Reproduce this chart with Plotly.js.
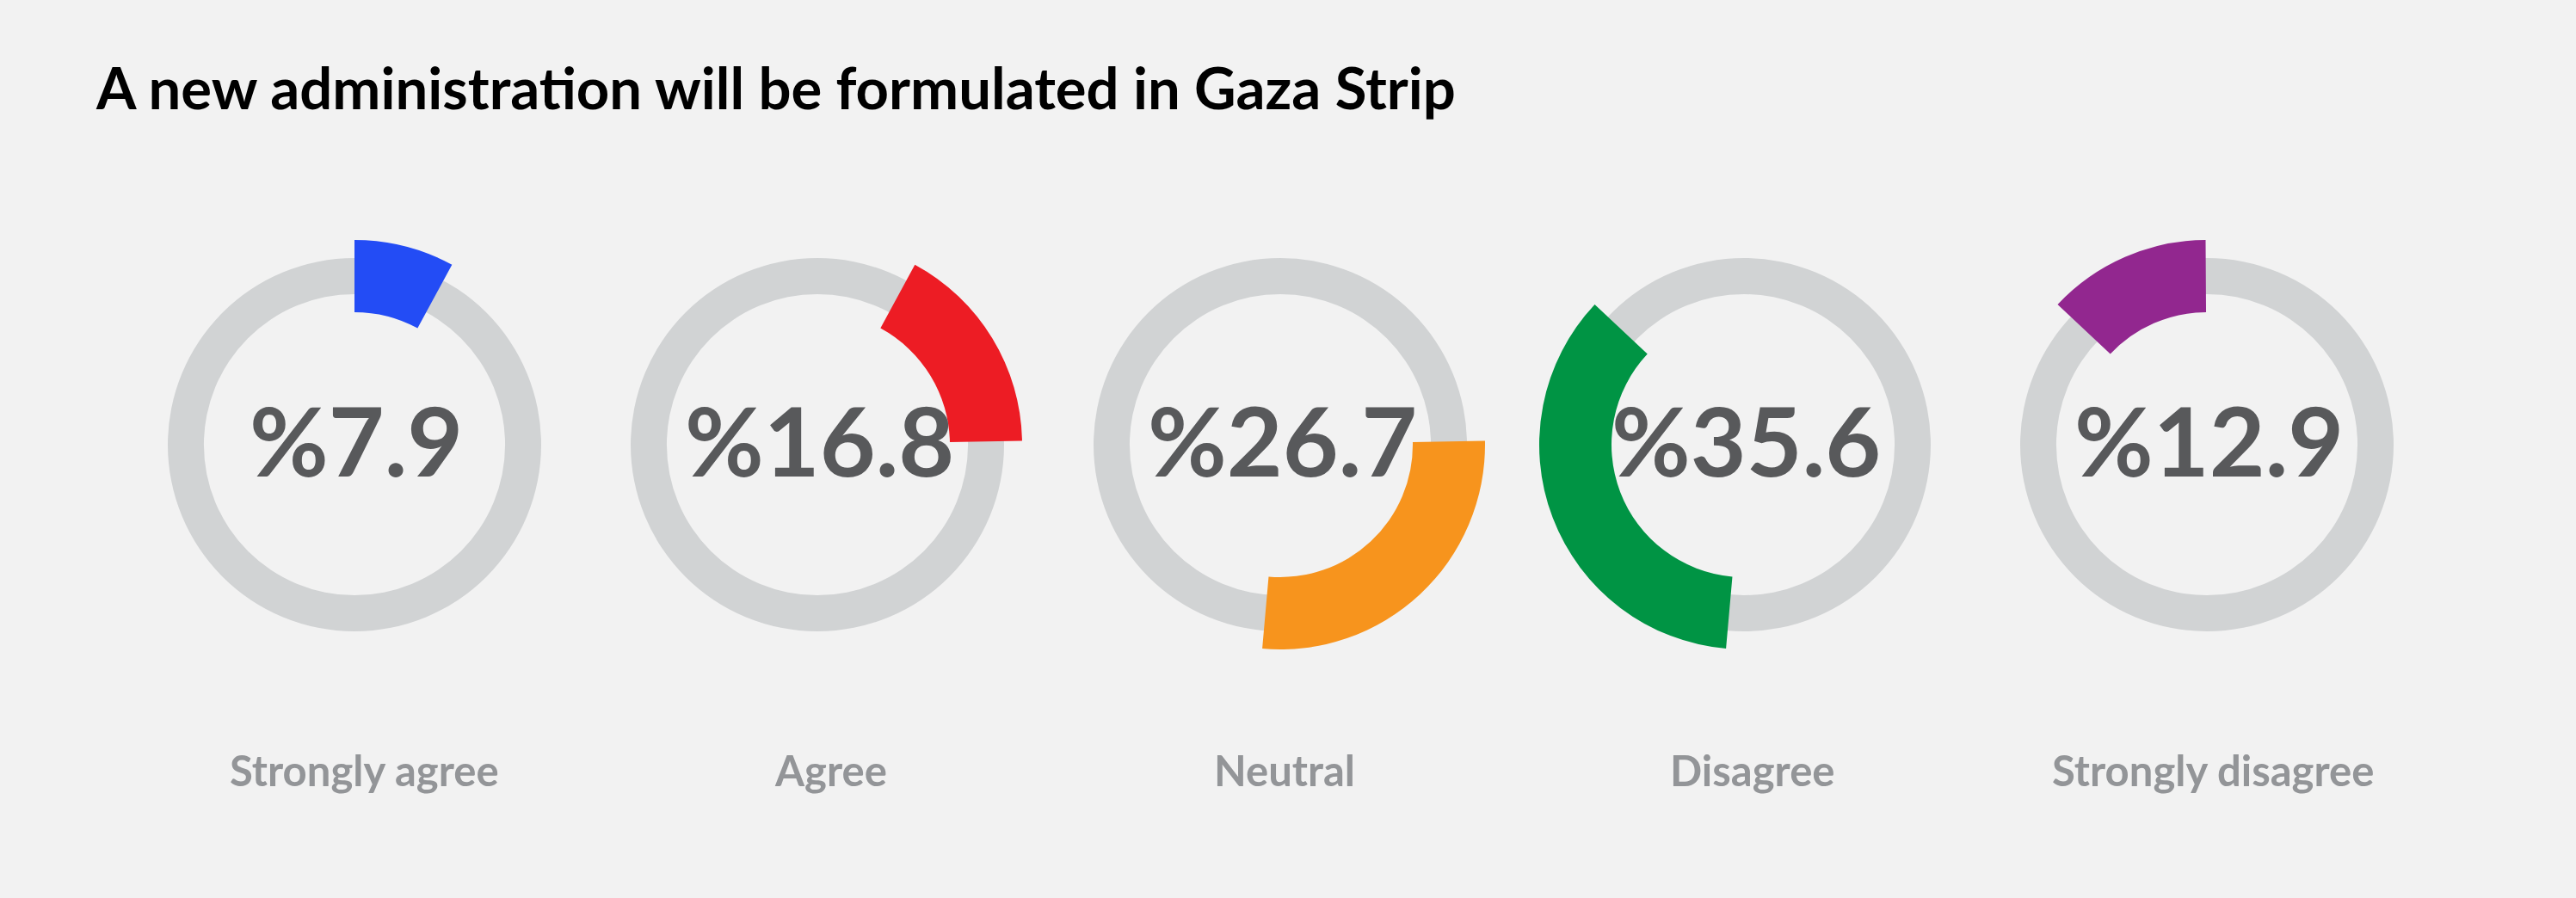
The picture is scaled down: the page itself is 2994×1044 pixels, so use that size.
<!DOCTYPE html>
<html>
<head>
<meta charset="utf-8">
<script src="https://cdn.plot.ly/plotly-3.0.1.min.js"></script>
<style>html,body{margin:0;padding:0;background:#f2f2f2;}#chart{width:2994px;height:1044px;}</style>
</head>
<body>
<div id="chart"></div>
<script>
// ---- data ----
const chartTitle = 'A new administration will be formulated in Gaza Strip';
const categories = ['Strongly agree', 'Agree', 'Neutral', 'Disagree', 'Strongly disagree'];
const values = [7.9, 16.8, 26.7, 35.6, 12.9];

// ---- style ----
const palette = ['#234cf5', '#ed1c24', '#f7941d', '#009444', '#92278f'];
const W = 2994, H = 1044;
const centersX = [412, 950, 1488, 2027, 2565];
const centerY = 517;
const ringOuter = 217, ringInner = 175;
const arcOuter = 238, arcInner = 154;
const labelX = [423, 965, 1493, 2036, 2572];
const FONT = 'Lato, "Open Sans", sans-serif';

function domainFor(cx, cy, r) {
  return {
    x: [(cx - r) / W, (cx + r) / W],
    y: [(H - cy - r) / H, (H - cy + r) / H]
  };
}

const traces = [];
const annotations = [];
let cumulative = 0;
values.forEach((v, i) => {
  const cx = centersX[i];
  // grey background ring
  traces.push({
    type: 'pie',
    values: [100],
    labels: ['ring'],
    marker: {colors: ['#d1d3d4'], line: {width: 0}},
    hole: ringInner / ringOuter,
    domain: domainFor(cx, centerY, ringOuter),
    textinfo: 'none',
    hoverinfo: 'skip',
    showlegend: false,
    sort: false
  });
  // coloured arc: offset (transparent), value, remainder (transparent)
  const rest = Math.max(0, 100 - cumulative - v);
  traces.push({
    type: 'pie',
    values: [cumulative, v, rest],
    labels: ['before', categories[i], 'after'],
    marker: {colors: ['rgba(0,0,0,0)', palette[i], 'rgba(0,0,0,0)'], line: {width: 0}},
    hole: arcInner / arcOuter,
    domain: domainFor(cx, centerY, arcOuter),
    direction: 'clockwise',
    rotation: 0,
    sort: false,
    textinfo: 'none',
    hoverinfo: 'skip',
    showlegend: false
  });
  cumulative += v;

  annotations.push({
    xref: 'paper', yref: 'paper',
    x: (cx + 2) / W, y: 1 - 510 / H,
    xanchor: 'center', yanchor: 'middle',
    text: '%' + v.toFixed(1),
    showarrow: false,
    font: {family: FONT, size: 112, color: '#58595b', weight: 700}
  });
  annotations.push({
    xref: 'paper', yref: 'paper',
    x: labelX[i] / W, y: 1 - 895 / H,
    xanchor: 'center', yanchor: 'middle',
    text: categories[i],
    showarrow: false,
    font: {family: FONT, size: 49, color: '#939598', weight: 700}
  });
});

const layout = {
  width: W, height: H,
  margin: {l: 0, r: 0, t: 0, b: 0},
  paper_bgcolor: '#f2f2f2',
  plot_bgcolor: '#f2f2f2',
  title: {
    text: chartTitle,
    x: 112 / W, xanchor: 'left', xref: 'container',
    y: 1 - 104 / H, yanchor: 'middle', yref: 'container',
    font: {family: FONT, size: 67, color: '#000000', weight: 700}
  },
  annotations: annotations,
  showlegend: false
};

Plotly.newPlot('chart', traces, layout, {staticPlot: true, displayModeBar: false});
</script>
</body>
</html>
